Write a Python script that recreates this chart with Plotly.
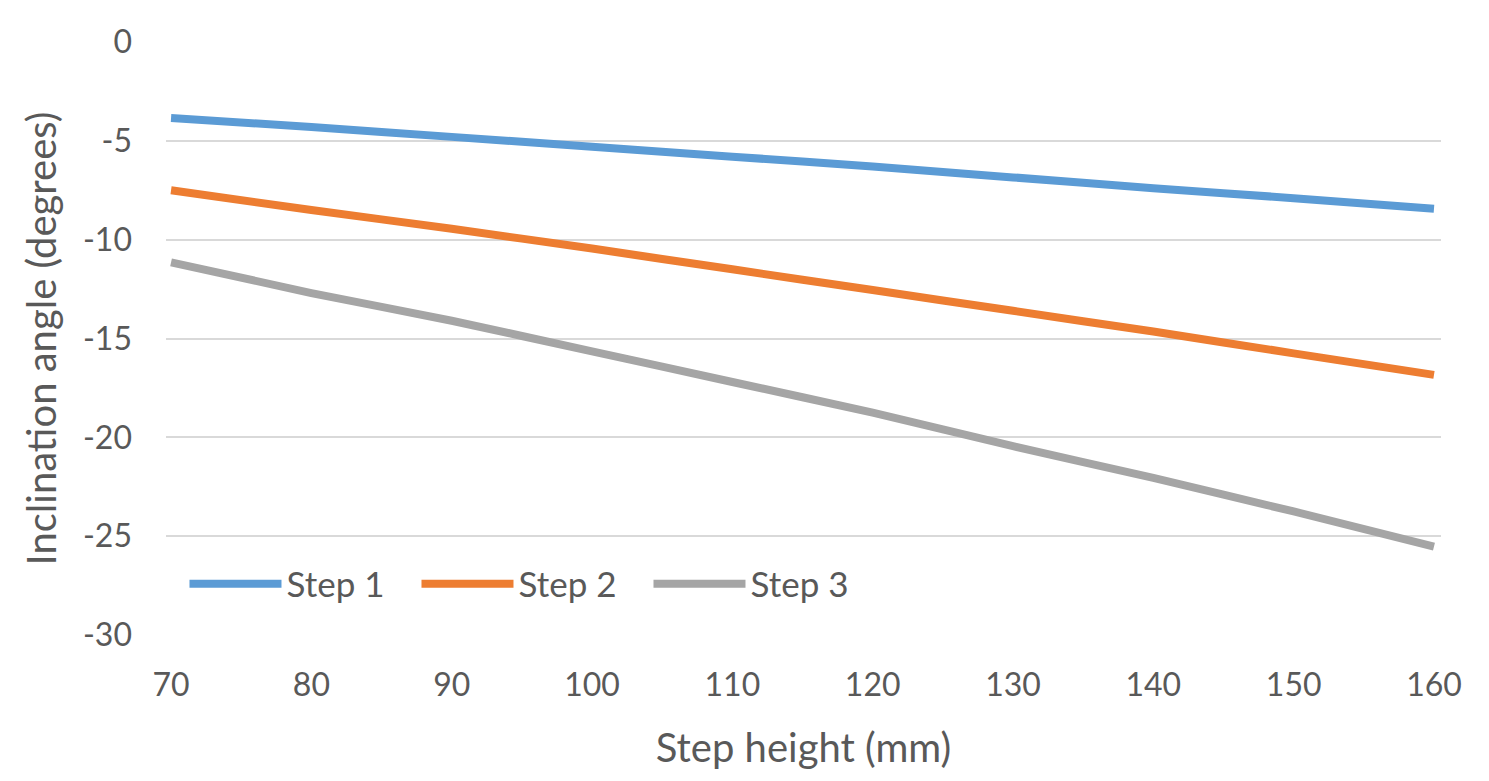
import plotly.graph_objects as go

step_height = [70, 80, 90, 100, 110, 120, 130, 140, 150, 160]
step1 = [-3.85, -4.3, -4.8, -5.3, -5.8, -6.3, -6.85, -7.4, -7.9, -8.44]
step2 = [-7.5, -8.5, -9.45, -10.45, -11.5, -12.55, -13.6, -14.65, -15.75, -16.84]
step3 = [-11.15, -12.7, -14.1, -15.65, -17.2, -18.75, -20.45, -22.05, -23.75, -25.53]
y_ticks = [0, -5, -10, -15, -20, -25, -30]
y_tick_labels = ["0", "-5", "-10", "-15", "-20", "-25", "-30"]

series = [("Step 1", step1, "#5B9BD5"), ("Step 2", step2, "#ED7D31"), ("Step 3", step3, "#A5A5A5")]

FONT = "Lato"
TXT = "#595959"

fig = go.Figure()
for name, vals, col in series:
    fig.add_trace(go.Scatter(x=step_height, y=vals, mode="lines", name=name,
                             line=dict(color=col, width=8, shape="spline", smoothing=0.3)))

fig.update_layout(
    width=1473, height=765,
    margin=dict(l=158, r=40, t=34, b=138),
    paper_bgcolor="white", plot_bgcolor="white",
    font=dict(family=FONT, color=TXT, size=32),
    showlegend=True,
    legend=dict(orientation="h", x=0.0145, y=0.086, xanchor="left", yanchor="middle",
                bgcolor="rgba(0,0,0,0)", font=dict(size=35, color=TXT),
                itemwidth=92, entrywidth=125, entrywidthmode="pixels"),
    xaxis=dict(range=[69.64, 160.5], tickvals=step_height, showgrid=False, zeroline=False,
               showline=False, ticks="", ticklabelstandoff=28,
               tickfont=dict(size=32, color=TXT),
               title=dict(text="Step height (mm)", font=dict(size=40, color=TXT), standoff=31)),
    yaxis=dict(range=[-30, 0], tickvals=y_ticks, ticktext=y_tick_labels, showgrid=True,
               gridcolor="#D9D9D9", gridwidth=2, zeroline=False, showline=False, ticks="",
               ticklabelstandoff=33, tickfont=dict(size=32, color=TXT),
               title=dict(text="Inclination angle (degrees)", font=dict(size=40, color=TXT), standoff=13)),
)

fig.write_html("out.html")
